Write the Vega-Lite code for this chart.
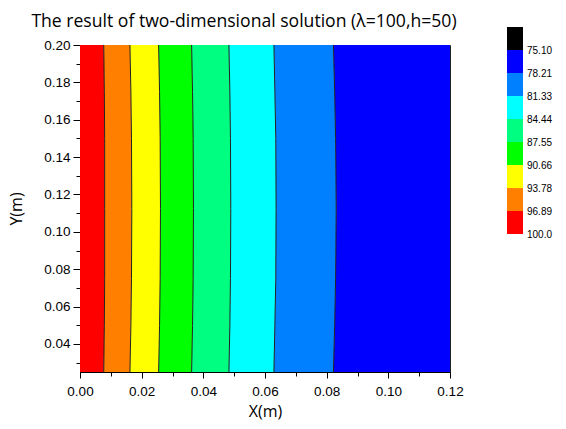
{
  "$schema": "https://vega.github.io/schema/vega-lite/v6.json",
  "autosize": "none",
  "padding": {"left": 80, "top": 45, "right": 116, "bottom": 57},
  "width": 370,
  "height": 327,
  "title": {"text": "The result of two-dimensional solution (λ=100,h=50)", "font": "Open Sans", "fontSize": 17.6, "fontWeight": "normal", "color": "#000", "dx": -21, "offset": -4},
  "data": {"values": [
    {"T":98.4,"y":0.025,"x":0,"x2":0.0077},{"T":98.4,"y":0.05,"x":0,"x2":0.0079},{"T":98.4,"y":0.075,"x":0,"x2":0.0080},{"T":98.4,"y":0.1125,"x":0,"x2":0.0080},{"T":98.4,"y":0.15,"x":0,"x2":0.0080},{"T":98.4,"y":0.175,"x":0,"x2":0.0079},{"T":98.4,"y":0.2,"x":0,"x2":0.0077},
    {"T":95.3,"y":0.025,"x":0.0077,"x2":0.0162},{"T":95.3,"y":0.05,"x":0.0079,"x2":0.0165},{"T":95.3,"y":0.075,"x":0.0080,"x2":0.0167},{"T":95.3,"y":0.1125,"x":0.0080,"x2":0.0168},{"T":95.3,"y":0.15,"x":0.0080,"x2":0.0167},{"T":95.3,"y":0.175,"x":0.0079,"x2":0.0165},{"T":95.3,"y":0.2,"x":0.0077,"x2":0.0162},
    {"T":92.2,"y":0.025,"x":0.0162,"x2":0.0255},{"T":92.2,"y":0.05,"x":0.0165,"x2":0.0258},{"T":92.2,"y":0.075,"x":0.0167,"x2":0.0260},{"T":92.2,"y":0.1125,"x":0.0168,"x2":0.0261},{"T":92.2,"y":0.15,"x":0.0167,"x2":0.0260},{"T":92.2,"y":0.175,"x":0.0165,"x2":0.0258},{"T":92.2,"y":0.2,"x":0.0162,"x2":0.0255},
    {"T":89.1,"y":0.025,"x":0.0255,"x2":0.0362},{"T":89.1,"y":0.05,"x":0.0258,"x2":0.0365},{"T":89.1,"y":0.075,"x":0.0260,"x2":0.0367},{"T":89.1,"y":0.1125,"x":0.0261,"x2":0.0368},{"T":89.1,"y":0.15,"x":0.0260,"x2":0.0367},{"T":89.1,"y":0.175,"x":0.0258,"x2":0.0365},{"T":89.1,"y":0.2,"x":0.0255,"x2":0.0362},
    {"T":86.0,"y":0.025,"x":0.0362,"x2":0.0483},{"T":86.0,"y":0.05,"x":0.0365,"x2":0.0486},{"T":86.0,"y":0.075,"x":0.0367,"x2":0.0488},{"T":86.0,"y":0.1125,"x":0.0368,"x2":0.0489},{"T":86.0,"y":0.15,"x":0.0367,"x2":0.0488},{"T":86.0,"y":0.175,"x":0.0365,"x2":0.0486},{"T":86.0,"y":0.2,"x":0.0362,"x2":0.0483},
    {"T":82.9,"y":0.025,"x":0.0483,"x2":0.0629},{"T":82.9,"y":0.05,"x":0.0486,"x2":0.0632},{"T":82.9,"y":0.075,"x":0.0488,"x2":0.0635},{"T":82.9,"y":0.1125,"x":0.0489,"x2":0.0636},{"T":82.9,"y":0.15,"x":0.0488,"x2":0.0635},{"T":82.9,"y":0.175,"x":0.0486,"x2":0.0632},{"T":82.9,"y":0.2,"x":0.0483,"x2":0.0629},
    {"T":79.8,"y":0.025,"x":0.0629,"x2":0.0822},{"T":79.8,"y":0.05,"x":0.0632,"x2":0.0826},{"T":79.8,"y":0.075,"x":0.0635,"x2":0.0829},{"T":79.8,"y":0.1125,"x":0.0636,"x2":0.0831},{"T":79.8,"y":0.15,"x":0.0635,"x2":0.0829},{"T":79.8,"y":0.175,"x":0.0632,"x2":0.0826},{"T":79.8,"y":0.2,"x":0.0629,"x2":0.0822},
    {"T":76.7,"y":0.025,"x":0.0822,"x2":0.12},{"T":76.7,"y":0.05,"x":0.0826,"x2":0.12},{"T":76.7,"y":0.075,"x":0.0829,"x2":0.12},{"T":76.7,"y":0.1125,"x":0.0831,"x2":0.12},{"T":76.7,"y":0.15,"x":0.0829,"x2":0.12},{"T":76.7,"y":0.175,"x":0.0826,"x2":0.12},{"T":76.7,"y":0.2,"x":0.0822,"x2":0.12}
  ]},
  "resolve": {"axis": {"x": "independent", "y": "independent"}},
  "layer": [
    {
      "mark": {"type": "area", "orient": "horizontal"},
      "encoding": {
        "y": {"field": "y", "type": "quantitative", "scale": {"domain": [0.025, 0.2], "nice": false, "zero": false},
              "axis": {"values": [0.04,0.06,0.08,0.10,0.12,0.14,0.16,0.18,0.20], "format": ".2f", "tickSize": 7, "labelPadding": 3, "labelFlush": false, "title": "Y(m)", "titlePadding": 19, "orient": "left"}},
        "x": {"field": "x", "type": "quantitative", "scale": {"domain": [0, 0.12], "nice": false, "zero": false},
              "axis": {"values": [0,0.02,0.04,0.06,0.08,0.10,0.12], "format": ".2f", "tickSize": 6, "labelPadding": 6, "labelFlush": false, "title": "X(m)", "titlePadding": 6, "orient": "bottom"}},
        "x2": {"field": "x2"},
        "color": {"field": "T", "type": "quantitative",
                  "scale": {"type": "threshold", "domain": [75.10,78.21,81.33,84.44,87.55,90.66,93.78,96.89,100.0],
                            "range": ["#000000","#0000ff","#0080ff","#00ffff","#00ff80","#00ff00","#ffff00","#ff8000","#ff0000","#ffffff"]},
                  "legend": {"title": null, "orient": "none", "legendX": 427, "legendY": -18, "direction": "vertical",
                             "gradientLength": 230, "gradientThickness": 27, "gradientStrokeWidth": 0,
                             "labelFont": "Liberation Sans", "labelFontSize": 10, "labelOffset": 4, "labelColor": "#000",
                             "labelOverlap": false, "format": ".4r",
                             "encode": {
                               "gradient": {"update": {"y": {"field": "perc", "mult": 230}, "y2": {"field": "perc2", "mult": 230}}},
                               "labels": {"update": {"y": {"field": "perc", "mult": 230, "offset": 1}}}
                             }}}
      }
    },
    {
      "transform": [{"filter": "datum.T < 98"}],
      "mark": {"type": "line", "color": "#222", "strokeWidth": 1},
      "encoding": {
        "y": {"field": "y", "type": "quantitative",
              "axis": {"values": [0.03,0.05,0.07,0.09,0.11,0.13,0.15,0.17,0.19], "labels": false, "domain": false, "tickSize": 4, "title": null, "orient": "left"}},
        "x": {"field": "x", "type": "quantitative",
              "axis": {"values": [0.01,0.03,0.05,0.07,0.09,0.11], "labels": false, "domain": false, "tickSize": 4, "title": null, "orient": "bottom"}},
        "detail": {"field": "T", "type": "nominal"},
        "order": {"field": "y", "type": "quantitative"}
      }
    }
  ],
  "config": {
    "view": {"stroke": "#222", "strokeWidth": 1},
    "axis": {"domainColor": "#000", "tickColor": "#000", "labelColor": "#000", "labelFont": "Liberation Sans", "labelFontSize": 13.5,
             "titleFont": "Open Sans", "titleFontSize": 16, "titleFontWeight": "normal", "titleColor": "#000", "grid": false}
  }
}
